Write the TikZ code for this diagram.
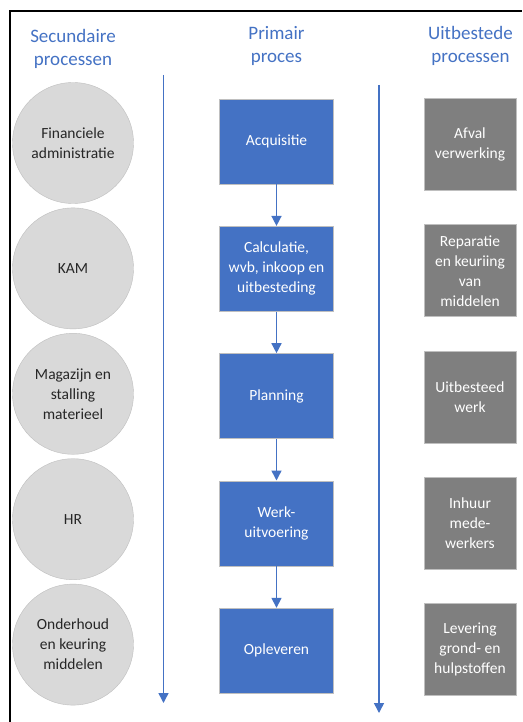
\documentclass[tikz,border=0pt]{standalone}
\usepackage{fontspec}
\setmainfont{Carlito}
\usetikzlibrary{positioning,arrows.meta}
\definecolor{figblue}{HTML}{4472C4}
\definecolor{figgrey}{HTML}{7F7F7F}
\definecolor{figlight}{HTML}{D9D9D9}
\definecolor{figedge}{HTML}{BFBFBF}
\definecolor{figtext}{HTML}{262626}
\tikzset{
  hdr/.style={text=figblue,align=center,font=\fontsize{19}{23}\selectfont},
  sec/.style={circle,draw=figedge,fill=figlight,minimum size=121pt,inner sep=0pt,
              align=center,text=figtext,font=\fontsize{15.5}{20}\selectfont},
  prim/.style={draw=figedge,line width=0.8pt,fill=figblue,minimum height=85pt,minimum width=114pt,
               inner sep=0pt,align=center,text=white,font=\fontsize{15.5}{20}\selectfont},
  uitb/.style={draw=figedge,line width=0.8pt,fill=figgrey,minimum height=92pt,minimum width=92pt,
               inner sep=0pt,align=center,text=white,font=\fontsize{15.5}{20}\selectfont},
  ln/.style={-{Triangle[length=10pt,width=10pt]},figblue,line width=1.5pt},
  frame/.style={line width=1.4pt,black},
}
\begin{document}
\begin{tikzpicture}[x=1pt,y=1pt]
\useasboundingbox (0,0) rectangle (522,-722);
\fill[white] (0,0) rectangle (522,-722);
\draw[frame] (10,-722) -- (10,-11) -- (522,-11);

% kolomkoppen
\node[hdr] (hsec) at (73,-49) {Secundaire\\processen};
\node[hdr] (hprim) at (276.5,-46) {Primair\\proces};
\node[hdr] (huitb) at (470.5,-46) {Uitbestede\\processen};

% secundaire processen
\node[sec] (fin) at (73,-143) {Financiele\\administratie};
\node[sec,below=4pt of fin] (kam) {KAM};
\node[sec,below=4pt of kam] (mag) {Magazijn en\\stalling\\materieel};
\node[sec,below=4pt of mag] (hr) {HR};
\node[sec,below=4pt of hr] (ond) {Onderhoud\\en keuring\\middelen};

% primair proces
\node[prim] (acq) at (276.5,-141.5) {Acquisitie};
\node[prim,below=41.5pt of acq] (calc) {Calculatie,\\wvb, inkoop en\\uitbesteding};
\node[prim,below=41.5pt of calc] (plan) {Planning};
\node[prim,below=41.5pt of plan] (werk) {Werk-\\uitvoering};
\node[prim,below=41.5pt of werk] (opl) {Opleveren};

\draw[ln] (acq) -- (calc);
\draw[ln] (calc) -- (plan);
\draw[ln] (plan) -- (werk);
\draw[ln] (werk) -- (opl);

% uitbestede processen
\node[uitb] (afv) at (470,-144.5) {Afval\\verwerking};
\node[uitb,below=33.5pt of afv] (rep) {Reparatie\\en keuriing\\van\\middelen};
\node[uitb,below=33.5pt of rep] (uit) {Uitbesteed\\werk};
\node[uitb,below=33.5pt of uit] (inh) {Inhuur\\mede-\\werkers};
\node[uitb,below=33.5pt of inh] (lev) {Levering\\grond- en\\hulpstoffen};

% scheidingspijlen
\coordinate (ltop) at (163.5,-75);
\coordinate (lbot) at (163.5,-703);
\coordinate (rtop) at (379,-85);
\coordinate (rbot) at (379,-713);
\draw[ln] (ltop) -- (lbot);
\draw[ln] (rtop) -- (rbot);
\end{tikzpicture}
\end{document}
